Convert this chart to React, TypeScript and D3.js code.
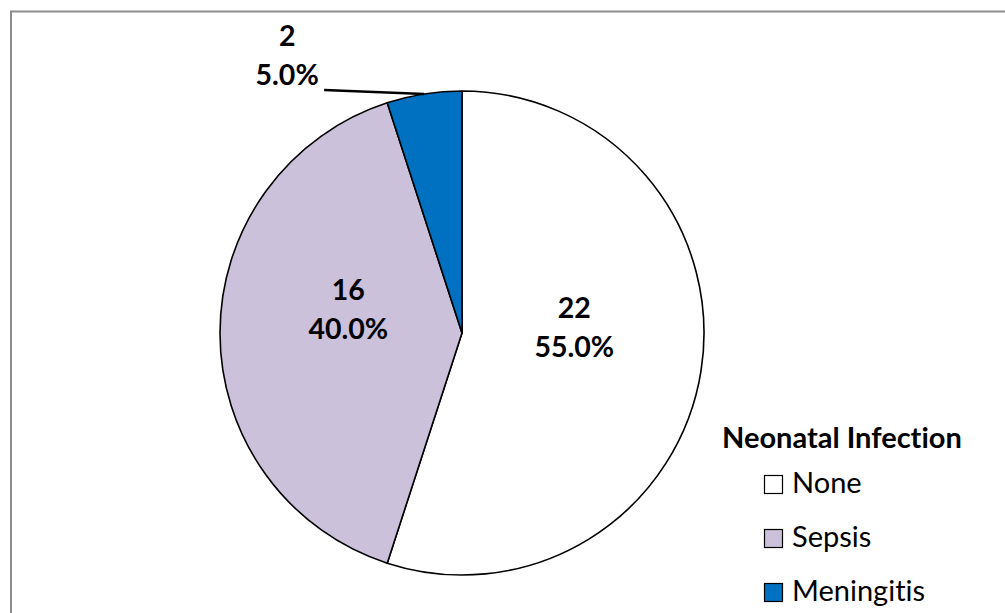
import { useEffect, useRef } from 'react';
import * as d3 from 'd3';

const categories = ["None", "Sepsis", "Meningitis"];
const counts = [22, 16, 2];
const colors = ["#FFFFFF", "#CCC1DA", "#0070C0"];
const legendTitle = "Neonatal Infection";

const WIDTH = 1005;
const HEIGHT = 613;

export default function App() {
  const svgRef = useRef<SVGSVGElement>(null);

  useEffect(() => {
    if (!svgRef.current) return;
    const svg = d3.select(svgRef.current);
    svg.selectAll("*").remove();

    const font = "Lato, 'Liberation Sans', Arial, sans-serif";
    const total = d3.sum(counts);
    const cx = 462;
    const cy = 333;
    const radius = 242;

    // chart area border
    svg.append("rect")
      .attr("x", 11)
      .attr("y", 11.5)
      .attr("width", WIDTH + 20)
      .attr("height", HEIGHT + 20)
      .attr("fill", "#fff")
      .attr("stroke", "#8c8c8c")
      .attr("stroke-width", 2);

    const data = categories.map((name, i) => ({ name, value: counts[i], color: colors[i] }));

    const pie = d3.pie<typeof data[number]>()
      .sort(null)
      .value(d => d.value);
    const arcs = pie(data);

    const arc = d3.arc<d3.PieArcDatum<typeof data[number]>>()
      .innerRadius(0)
      .outerRadius(radius);

    const labelArc = d3.arc<d3.PieArcDatum<typeof data[number]>>()
      .innerRadius(radius * 0.47)
      .outerRadius(radius * 0.47);

    const edgeArc = d3.arc<d3.PieArcDatum<typeof data[number]>>()
      .innerRadius(radius)
      .outerRadius(radius);

    const g = svg.append("g").attr("transform", `translate(${cx},${cy})`);

    g.selectAll(".slice")
      .data(arcs)
      .enter()
      .append("path")
      .attr("class", "slice")
      .attr("d", arc)
      .attr("fill", d => d.data.color)
      .attr("stroke", "#000")
      .attr("stroke-width", 1.6)
      .attr("stroke-linejoin", "round");

    const pct = (v: number) => `${((v / total) * 100).toFixed(1)}%`;

    // inside labels for the big slices
    arcs.filter(d => d.data.value / total > 0.1).forEach(d => {
      const [x, y] = labelArc.centroid(d);
      const t = g.append("text")
        .attr("text-anchor", "middle")
        .attr("font-family", font)
        .attr("font-weight", "bold")
        .attr("font-size", 28.5)
        .attr("fill", "#000");
      t.append("tspan").attr("x", x).attr("y", y - 33).text(d.data.value);
      t.append("tspan").attr("x", x).attr("y", y + 6).text(pct(d.data.value));
    });

    // outside label with leader line for small slice
    arcs.filter(d => d.data.value / total <= 0.1).forEach(d => {
      const [ex, ey] = edgeArc.centroid(d);
      const lx = ex - 100;
      const ly = ey - 4;
      g.append("line")
        .attr("x1", ex)
        .attr("y1", ey)
        .attr("x2", lx)
        .attr("y2", ly)
        .attr("stroke", "#000")
        .attr("stroke-width", 2.5);
      const t = g.append("text")
        .attr("text-anchor", "middle")
        .attr("font-family", font)
        .attr("font-weight", "bold")
        .attr("font-size", 28.5)
        .attr("fill", "#000");
      t.append("tspan").attr("x", lx - 37).attr("y", ly - 44).text(d.data.value);
      t.append("tspan").attr("x", lx - 37).attr("y", ly - 5).text(pct(d.data.value));
    });

    // legend
    const legend = svg.append("g").attr("transform", "translate(722,448)");
    legend.append("text")
      .attr("x", 0)
      .attr("y", 0)
      .attr("font-family", font)
      .attr("font-weight", "bold")
      .attr("font-size", 29)
      .attr("fill", "#000")
      .style("font-variant-ligatures", "none")
      .text(legendTitle);

    const items = legend.selectAll(".item")
      .data(data)
      .enter()
      .append("g")
      .attr("class", "item")
      .attr("transform", (_, i) => `translate(42,${27 + i * 54})`);

    items.append("rect")
      .attr("x", 0.5)
      .attr("y", 0.5)
      .attr("width", 18)
      .attr("height", 18)
      .attr("fill", d => d.color)
      .attr("stroke", "#000")
      .attr("stroke-width", 1.2);

    items.append("text")
      .attr("x", 28)
      .attr("y", 18)
      .attr("font-family", font)
      .attr("font-size", 29)
      .attr("fill", "#000")
      .style("font-variant-ligatures", "none")
      .text(d => d.name);
  }, []);

  return (
    <svg
      ref={svgRef}
      width={WIDTH}
      height={HEIGHT}
      style={{ position: 'absolute', left: 0, top: 0, display: 'block', background: '#fff' }}
    />
  );
}
